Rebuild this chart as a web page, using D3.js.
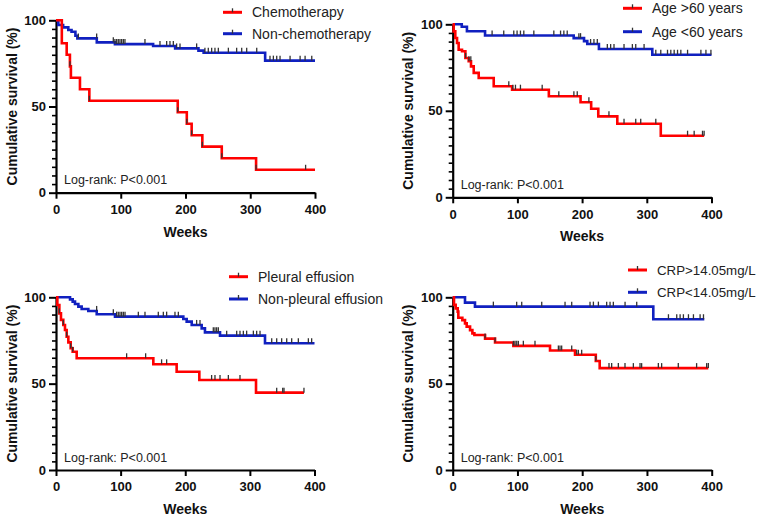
<!DOCTYPE html>
<html>
<head>
<meta charset="utf-8">
<script src="https://cdn.jsdelivr.net/npm/d3@7"></script>
<style>
  body { margin: 0; background: #fff; }
  svg text { font-family: "Liberation Sans", Arial, sans-serif; }
</style>
</head>
<body>
<svg></svg>
<script>
const w = 767
const h = 518

// ---- data (weeks, survival %) ----
const xTicks = [0, 100, 200, 300, 400]
const yTicks = [0, 50, 100]

// panel A
const legendA = ['Chemotherapy', 'Non-chemotherapy']
const chemoT = [0, 9, 16.5, 21.5, 23, 37, 51.5, 188, 202, 209.5, 226, 256, 309]
const chemoS = [100, 86.7, 80, 73.3, 66.7, 60, 53.3, 46.7, 40, 33.3, 26.7, 20, 13.3]
const chemoC = [21.5, 51.5, 188, 202, 209.5, 226, 256, 309, 385.5]
const chemoEnd = 400
const nonChemoT = [0, 3.6, 11, 19, 24, 30, 33, 63, 91, 150, 184, 220, 228, 323]
const nonChemoS = [100, 97.3, 95.9, 94.4, 93.4, 91, 89.5, 87.2, 86.2, 85.1, 83.7, 82.4, 81.2, 76.6]
const nonChemoC = [34.5, 62.8, 88.5, 91, 93.7, 96.2, 98.8, 101.4, 104, 106.5, 137.4, 160.6, 170.9, 176,
  181.2, 186.3, 191.5, 217.2, 230, 235.2, 240.4, 245.5, 250.7, 266.2, 279, 286.8, 294.5, 310, 330.5,
  335.7, 340.9, 346, 361.5, 377, 384.7, 395]
const nonChemoEnd = 400

// panel B
const legendB = ['Age >60 years', 'Age <60 years']
const oldT = [0, 1.5, 4, 6.7, 9.2, 14.4, 19.6, 24.7, 28.3, 32.5, 40.2, 63.4, 91.8, 148.6, 197.6, 214, 225, 254.4, 321.6]
const oldS = [100, 95.9, 92.1, 89.2, 85.3, 84.4, 80.5, 78.6, 75.7, 71.9, 69, 64.2, 62.2, 58.4, 54.9, 51.2, 46.8, 42.5, 35.6]
const oldC = [20, 25, 28, 86.7, 92.9, 97, 104.7, 138.3, 164, 187.3, 192.5, 210.5, 241.5, 264.8, 282.9,
  290.6, 313.9, 363, 373.2, 386.1, 388.6]
const oldEnd = 388.6
const youngT = [0, 14, 22, 50, 187, 203, 208, 226, 308.5]
const youngS = [100, 98.6, 96, 93.5, 92, 90.3, 88.6, 85.7, 82.4]
const youngC = [60.9, 78.9, 94.4, 99.5, 104.7, 109.9, 125.4, 156.3, 166.7, 171.8, 177, 195, 197.6, 213.1,
  218.3, 223.5, 239, 244.1, 249.3, 264.8, 277.7, 282.9, 295.8, 313.9, 321.6, 332, 337.1, 342.3, 347.5,
  352.6, 363, 383.6, 391.4, 399.1]
const youngEnd = 400

// panel C
const legendC = ['Pleural effusion', 'Non-pleural effusion']
const pleuralT = [0, 2.1, 5.2, 7.7, 11.3, 13.9, 16.5, 19.1, 22.7, 25.8, 32, 150.6, 186.7, 221.8, 309.5]
const pleuralS = [100, 95.5, 90.7, 86.9, 84, 81.1, 77.2, 73.9, 70.5, 68.5, 64.7, 61.2, 56.9, 52.1, 44.8]
const pleuralC = [5.2, 11.3, 16.5, 22.7, 25.8, 109.3, 138.7, 163.4, 171.2, 240.8, 246, 253.8, 266.7,
  284.7, 341.5, 350.8, 352.8, 383.7]
const pleuralEnd = 383.7
const nonPleuralT = [0, 21.7, 25.8, 29.4, 34.6, 39.7, 50, 63, 91.3, 197, 202.2, 210, 225.4, 230.5, 253.8, 323.4]
const nonPleuralS = [100, 98.8, 97.5, 96.1, 94.6, 93.2, 92.1, 90.2, 88.8, 87.4, 85.9, 84, 82, 79.7, 77.8, 73.4]
const nonPleuralC = [62.9, 88.7, 93.8, 96.4, 99, 101.6, 104.2, 106.8, 127.4, 137.7, 158.3, 166.1, 171.2,
  184.1, 189.3, 217.6, 222.8, 243.4, 246, 248.6, 251.2, 264.1, 279.6, 284.7, 289.9, 295, 305.4, 310.5,
  315.7, 333.8, 341.5, 349.2, 357, 364.7, 375, 390.5, 395.6]
const nonPleuralEnd = 400

// panel D
const legendD = ['CRP>14.05mg/L', 'CRP<14.05mg/L']
const crpHighT = [0, 2, 4.6, 7.7, 8.7, 14.9, 19, 21.6, 26.8, 30.4, 33.5, 50, 65.4, 93.7, 150.3, 188.9, 221, 227]
const crpHighS = [100, 95.6, 93.6, 91.7, 88.2, 86.8, 84.9, 83, 81, 79.1, 78.2, 76.1, 73.8, 71.9, 69.2, 66.7, 63.1, 59]
const crpHighC = [50, 65.4, 93.7, 96.3, 98.9, 101.4, 109.1, 127.1, 163.2, 165.7, 168.3, 183.8, 191.5,
  194.1, 199.2, 221, 241.4, 245.5, 255.8, 266.1, 279, 289.3, 291.8, 317.6, 322.7, 348.4, 376.7, 392.2, 394.8]
const crpHighEnd = 394.8
const crpLowT = [0, 19, 34.4, 309.8]
const crpLowS = [100, 96.9, 94.6, 87.3]
const crpLowC = [62.8, 98.8, 106.6, 137.5, 173.5, 183.8, 212.1, 217.3, 225, 237.8, 243, 248.1, 266.2,
  284.2, 333.2, 346, 351.2, 356.3, 364.1, 371.8, 382.1, 387.3]
const crpLowEnd = 388.6

// ---- layout ----
const RED = '#ff0000'
const BLUE = '#1020c0'

const panels = [
  {x0: 56, x1: 315, yTop: 20.3, yBot: 192.7, lx: 223, ly: 12.3, lgap: 21.4, lfont: 14, labels: legendA,
    series: [
      {t: chemoT, s: chemoS, c: chemoC, end: chemoEnd, color: RED},
      {t: nonChemoT, s: nonChemoS, c: nonChemoC, end: nonChemoEnd, color: BLUE}]},
  {x0: 452.7, x1: 711.5, yTop: 24.3, yBot: 197.3, lx: 623, ly: 8.3, lgap: 23.4, lfont: 14, labels: legendB,
    series: [
      {t: oldT, s: oldS, c: oldC, end: oldEnd, color: RED},
      {t: youngT, s: youngS, c: youngC, end: youngEnd, color: BLUE}]},
  {x0: 56, x1: 314.5, yTop: 297.3, yBot: 470, lx: 229, ly: 276.7, lgap: 22.3, lfont: 14, labels: legendC,
    series: [
      {t: pleuralT, s: pleuralS, c: pleuralC, end: pleuralEnd, color: RED},
      {t: nonPleuralT, s: nonPleuralS, c: nonPleuralC, end: nonPleuralEnd, color: BLUE}]},
  {x0: 452.7, x1: 711.7, yTop: 297.3, yBot: 470, lx: 628, ly: 270, lgap: 22.3, lfont: 13.3, labels: legendD,
    series: [
      {t: crpHighT, s: crpHighS, c: crpHighC, end: crpHighEnd, color: RED},
      {t: crpLowT, s: crpLowS, c: crpLowC, end: crpLowEnd, color: BLUE}]}
]

const svg = d3.select('svg')
  .attr('width', w)
  .attr('height', h)

// survival at time t for a step curve
const survAt = (ser, t) => {
  let v = ser.s[0]
  ser.t.forEach((tt, i) => { if (tt <= t) v = ser.s[i] })
  return v
}

panels.forEach(p => {
  const g = svg.append('g')

  const xScale = d3.scaleLinear().domain([0, 400]).range([p.x0, p.x1])
  const yScale = d3.scaleLinear().domain([0, 100]).range([p.yBot, p.yTop])

  // minor y ticks every 5
  const minorG = g.append('g')
    .attr('transform', `translate(${p.x0},0)`)
    .call(d3.axisLeft(yScale).tickValues(d3.range(0, 101, 5).filter(v => v % 50)).tickSize(4).tickFormat(''))
  minorG.select('.domain').remove()
  minorG.selectAll('line').attr('stroke', '#000').attr('stroke-width', 1.6)

  const yAxisG = g.append('g')
    .attr('transform', `translate(${p.x0},0)`)
    .call(d3.axisLeft(yScale).tickValues(yTicks).tickSize(7).tickSizeOuter(0).tickPadding(3))
  const xAxisG = g.append('g')
    .attr('transform', `translate(0,${p.yBot})`)
    .call(d3.axisBottom(xScale).tickValues(xTicks).tickSize(6).tickSizeOuter(0).tickPadding(6))

  ;[yAxisG, xAxisG].forEach(a => {
    a.select('.domain').attr('stroke', '#000').attr('stroke-width', 2.2)
    a.selectAll('.tick line').attr('stroke', '#000').attr('stroke-width', 2)
    a.selectAll('text')
      .attr('fill', '#111')
      .attr('font-size', 13)
      .attr('font-weight', 'bold')
  })

  // axis titles
  g.append('text')
    .attr('transform', `translate(${p.x0 - 39.5},${(p.yTop + p.yBot) / 2}) rotate(-90)`)
    .attr('text-anchor', 'middle')
    .attr('font-size', 14)
    .attr('font-weight', 'bold')
    .attr('fill', '#111')
    .text('Cumulative survival (%)')

  g.append('text')
    .attr('x', (p.x0 + p.x1) / 2)
    .attr('y', p.yBot + 44)
    .attr('text-anchor', 'middle')
    .attr('font-size', 14)
    .attr('font-weight', 'bold')
    .attr('fill', '#111')
    .text('Weeks')

  g.append('text')
    .attr('x', p.x0 + 8)
    .attr('y', p.yBot - 8.5)
    .attr('font-size', 12.5)
    .attr('fill', '#222')
    .text('Log-rank: P<0.001')

  // curves: blue under red
  const line = d3.line()
    .x(d => xScale(d[0]))
    .y(d => yScale(d[1]))
    .curve(d3.curveStepAfter)

  const order = [1, 0]
  order.forEach(k => {
    const ser = p.series[k]
    const pts = ser.t.map((t, i) => [t, ser.s[i]])
    pts.push([ser.end, ser.s[ser.s.length - 1]])
    g.append('path')
      .datum(pts)
      .attr('d', line)
      .attr('fill', 'none')
      .attr('stroke', ser.color)
      .attr('stroke-width', 2.6)
  })

  // censor ticks
  p.series.forEach(ser => {
    g.selectAll(null).data(ser.c)
      .enter().append('line')
      .attr('x1', d => xScale(d))
      .attr('x2', d => xScale(d))
      .attr('y1', d => yScale(survAt(ser, d)) - 5)
      .attr('y2', d => yScale(survAt(ser, d)))
      .attr('stroke', '#333')
      .attr('stroke-width', 1.3)
  })

  // legend
  p.labels.forEach((lab, i) => {
    const ly = p.ly + i * p.lgap
    g.append('line')
      .attr('x1', p.lx).attr('x2', p.lx + 19)
      .attr('y1', ly).attr('y2', ly)
      .attr('stroke', p.series[i].color)
      .attr('stroke-width', 3)
    g.append('line')
      .attr('x1', p.lx + 9.5).attr('x2', p.lx + 9.5)
      .attr('y1', ly - 4).attr('y2', ly)
      .attr('stroke', '#333')
      .attr('stroke-width', 1.3)
    g.append('text')
      .attr('x', p.lx + 29)
      .attr('y', ly)
      .attr('dy', '0.36em')
      .attr('font-size', p.lfont)
      .attr('fill', '#222')
      .text(lab)
  })
})
</script>
</body>
</html>
